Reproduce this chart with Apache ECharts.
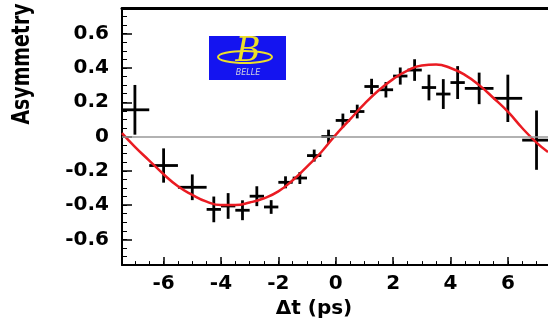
<!DOCTYPE html>
<html lang="en">
<head>
    <meta charset="UTF-8">
    <title>Asymmetry vs Δt</title>
    <script src="https://cdn.jsdelivr.net/npm/echarts/dist/echarts.min.js"></script>
    <style>
        html, body { margin: 0; padding: 0; background: #ffffff; }
        #chart { width: 548px; height: 324px; }
    </style>
</head>
<body>
    <div id="chart"></div>
    <script>
        // binned asymmetry points: centre, value, y error, half bin width
        const binT    = [-7, -6, -5, -4.25, -3.75, -3.25, -2.75, -2.25, -1.75, -1.25, -0.75, -0.25,
                         0.25, 0.75, 1.25, 1.75, 2.25, 2.75, 3.25, 3.75, 4.25, 5, 6, 7];
        const asym    = [0.156, -0.169, -0.296, -0.425, -0.405, -0.43, -0.348, -0.411, -0.267, -0.242, -0.111, 0.0,
                         0.094, 0.146, 0.292, 0.273, 0.353, 0.388, 0.286, 0.248, 0.315, 0.281, 0.223, -0.021];
        const asymErr = [0.145, 0.10, 0.075, 0.075, 0.075, 0.058, 0.058, 0.04, 0.035, 0.035, 0.035, 0.04,
                         0.04, 0.04, 0.045, 0.045, 0.05, 0.063, 0.075, 0.087, 0.096, 0.092, 0.138, 0.173];
        const binHalf = [0.5, 0.5, 0.5, 0.25, 0.25, 0.25, 0.25, 0.25, 0.25, 0.25, 0.25, 0.25,
                         0.25, 0.25, 0.25, 0.25, 0.25, 0.25, 0.25, 0.25, 0.25, 0.5, 0.5, 0.5];

        // fitted curve
        const fitT = [-7.45, -7, -6.5, -6, -5.5, -5, -4.5, -4, -3.5, -3, -2.5, -2, -1.5, -1, -0.5, 0,
                      0.5, 1, 1.5, 2, 2.5, 3, 3.5, 4, 4.5, 5, 5.5, 6, 6.5, 7, 7.4];
        const fitA = [0.02, -0.06, -0.14, -0.22, -0.29, -0.34, -0.38, -0.40, -0.40, -0.385, -0.36, -0.32, -0.255, -0.175, -0.09, 0.01,
                      0.10, 0.19, 0.27, 0.335, 0.385, 0.415, 0.42, 0.40, 0.36, 0.30, 0.225, 0.145, 0.05, -0.035, -0.09];

        const tLabels = [-6, -4, -2, 0, 2, 4, 6];
        const aLabels = [-0.6, -0.4, -0.2, 0, 0.2, 0.4, 0.6];

        const tMinor = [];
        for (let v = -7; v <= 7; v += 0.5) tMinor.push(v);
        const aMinor = [];
        for (let i = -15; i <= 15; i++) aMinor.push(+(i * 0.05).toFixed(2));

        const labelFont = {
            fontFamily: 'DejaVu Sans',
            fontWeight: 'bold',
            fontSize: 20,
            color: '#000'
        };

        function renderCross(params, api) {
            const x = api.value(0), y = api.value(1), ey = api.value(2), ex = api.value(3);
            const l = api.coord([x - ex, y]), r = api.coord([x + ex, y]);
            const t = api.coord([x, y + ey]), b = api.coord([x, y - ey]);
            const st = { stroke: '#000', lineWidth: 2.8 };
            return {
                type: 'group',
                children: [
                    { type: 'line', shape: { x1: l[0], y1: l[1], x2: r[0], y2: r[1] }, style: st },
                    { type: 'line', shape: { x1: t[0], y1: t[1], x2: b[0], y2: b[1] }, style: st }
                ]
            };
        }

        let option = {
            backgroundColor: '#ffffff',
            animation: false,
            grid: { left: 122, right: 0, top: 8, bottom: 56 },
            xAxis: [
                {
                    type: 'value', position: 'bottom', min: -7.45, max: 7.4,
                    axisLine: { onZero: false, lineStyle: { color: '#000', width: 2 } },
                    axisTick: { inside: true, length: 8, customValues: tLabels, lineStyle: { color: '#000', width: 1.5 } },
                    axisLabel: Object.assign({ customValues: tLabels, margin: 9 }, labelFont),
                    splitLine: { show: false },
                    name: 'Δt (ps)',
                    nameLocation: 'middle',
                    nameGap: 30,
                    nameTextStyle: Object.assign({ padding: [0, 42, 0, 0] }, labelFont)
                },
                {
                    type: 'value', position: 'bottom', min: -7.45, max: 7.4,
                    axisLine: { show: false, onZero: false },
                    axisTick: { inside: true, length: 4, customValues: tMinor, lineStyle: { color: '#000', width: 1 } },
                    axisLabel: { show: false },
                    splitLine: { show: false }
                },
                {
                    type: 'value', position: 'top', min: -7.45, max: 7.4,
                    axisLine: { onZero: false, lineStyle: { color: '#000', width: 3 } },
                    axisTick: { show: false },
                    axisLabel: { show: false },
                    splitLine: { show: false }
                }
            ],
            yAxis: [
                {
                    type: 'value', position: 'left', min: -0.75, max: 0.75,
                    axisLine: { onZero: false, lineStyle: { color: '#000', width: 2 } },
                    axisTick: { inside: true, length: 10, customValues: aLabels, lineStyle: { color: '#000', width: 1.5 } },
                    axisLabel: Object.assign({
                        customValues: aLabels, margin: 13,
                        formatter: v => (v === 0 ? '0' : v.toFixed(1))
                    }, labelFont),
                    splitLine: { show: false }
                },
                {
                    type: 'value', position: 'left', min: -0.75, max: 0.75,
                    axisLine: { show: false, onZero: false },
                    axisTick: { inside: true, length: 5, customValues: aMinor, lineStyle: { color: '#000', width: 1 } },
                    axisLabel: { show: false },
                    splitLine: { show: false }
                }
            ],
            graphic: [
                {
                    type: 'text', x: 22, y: 64, rotation: Math.PI / 2, scaleX: 0.84,
                    style: {
                        text: 'Asymmetry', fill: '#000', align: 'center', verticalAlign: 'middle',
                        font: 'bold 25px "Liberation Sans Narrow", "DejaVu Sans Condensed", sans-serif'
                    }
                },
                { type: 'rect', shape: { x: 209, y: 36, width: 77, height: 44 }, style: { fill: '#1414f0' } },
                {
                    type: 'ellipse', shape: { cx: 245, cy: 57, rx: 27, ry: 6 },
                    style: { fill: null, stroke: '#ecdf2a', lineWidth: 2 }
                },
                {
                    type: 'text', x: 248, y: 52,
                    style: {
                        text: 'B', fill: '#ecdf2a', align: 'center', verticalAlign: 'middle',
                        font: 'italic 34px "DejaVu Serif", serif'
                    }
                },
                {
                    type: 'text', x: 248, y: 73,
                    style: {
                        text: 'BELLE', fill: '#d0d0e0', align: 'center', verticalAlign: 'middle',
                        font: 'italic 8px "DejaVu Sans", sans-serif'
                    }
                }
            ],
            series: [
                {
                    type: 'custom',
                    name: 'data',
                    clip: true,
                    renderItem: renderCross,
                    encode: { x: 0, y: 1 },
                    data: binT.map((t, i) => [t, asym[i], asymErr[i], binHalf[i]]),
                    z: 3
                },
                {
                    type: 'line',
                    name: 'fit',
                    smooth: true,
                    showSymbol: false,
                    lineStyle: { color: '#ea1b22', width: 2.5 },
                    data: fitT.map((t, i) => [t, fitA[i]]),
                    markLine: {
                        silent: true,
                        symbol: 'none',
                        label: { show: false },
                        lineStyle: { color: '#999999', width: 1.5, type: 'solid' },
                        data: [{ yAxis: 0 }]
                    },
                    z: 4
                }
            ]
        };

        let chart = echarts.init(document.getElementById('chart'));
        chart.setOption(option);
    </script>
</body>
</html>
